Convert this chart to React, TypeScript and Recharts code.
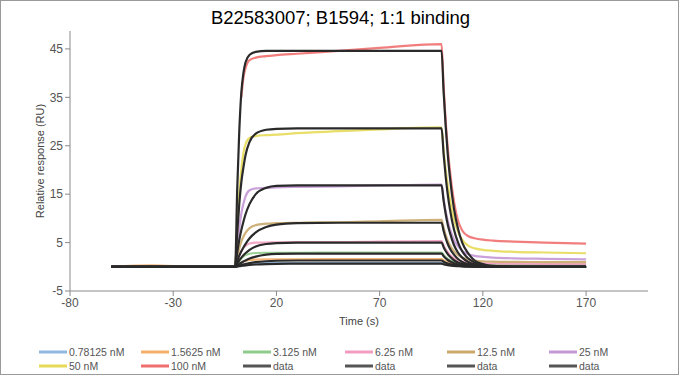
import React from 'react';
import { LineChart, Line, XAxis, YAxis, Legend } from 'recharts';

const TITLE = 'B22583007; B1594; 1:1 binding';

const TIME = [-60, -40, -20, 0, 1, 2, 3, 4, 5, 7, 10, 15, 20, 30, 50, 70, 100, 101, 102, 103, 104, 106, 108, 110, 113, 116, 120, 125, 135, 150, 170];

const CONC_LABELS = ['0.78125 nM', '1.5625 nM', '3.125 nM', '6.25 nM', '12.5 nM', '25 nM', '50 nM', '100 nM'];

// measured responses (RU)
const DATA_0078 = [0, 0, 0, 0, 0.15, 0.3, 0.42, 0.52, 0.6, 0.68, 0.72, 0.74, 0.74, 0.74, 0.75, 0.75, 0.75, 0.62, 0.52, 0.43, 0.36, 0.27, 0.2, 0.16, 0.14, 0.13, 0.12, 0.12, 0.11, 0.1, 0.1];
const DATA_0156 = [0, 0.3, 0, 0, 0.3, 0.6, 0.85, 1.05, 1.2, 1.4, 1.5, 1.55, 1.55, 1.56, 1.57, 1.58, 1.6, 1.3, 1.08, 0.9, 0.75, 0.55, 0.42, 0.35, 0.3, 0.27, 0.25, 0.24, 0.22, 0.21, 0.2];
const DATA_0313 = [0, 0, 0, 0, 0.6, 1.2, 1.7, 2.1, 2.4, 2.7, 2.85, 2.9, 2.9, 2.9, 2.92, 2.94, 2.95, 2.45, 2.0, 1.65, 1.38, 0.98, 0.74, 0.6, 0.5, 0.45, 0.42, 0.4, 0.38, 0.36, 0.35];
const DATA_0625 = [0, 0, 0, 0, 1.2, 2.3, 3.2, 3.9, 4.3, 4.8, 5.0, 5.0, 5.05, 5.1, 5.1, 5.2, 5.3, 4.4, 3.6, 3.0, 2.5, 1.8, 1.35, 1.1, 0.9, 0.78, 0.72, 0.68, 0.65, 0.62, 0.6];
const DATA_1250 = [0, 0, 0, 0, 2, 3.8, 5.2, 6.2, 7.0, 8.0, 8.6, 8.9, 9.0, 9.1, 9.2, 9.4, 9.7, 8, 6.6, 5.4, 4.5, 3.2, 2.4, 1.9, 1.5, 1.3, 1.15, 1.08, 1.02, 0.98, 0.95];
const DATA_2500 = [0, 0, 0, 0, 4, 8, 11, 13, 14.5, 15.8, 16.2, 16.3, 16.4, 16.5, 16.6, 16.8, 17.0, 14, 11.5, 9.5, 7.9, 5.6, 4.2, 3.3, 2.6, 2.25, 2.05, 1.9, 1.75, 1.65, 1.55];
const DATA_5000 = [0, 0, 0, 0, 8, 15, 20, 23.5, 25.3, 26.6, 27.0, 27.2, 27.3, 27.6, 28.0, 28.4, 28.8, 24, 20, 16.8, 14, 9.8, 7.2, 5.6, 4.3, 3.8, 3.5, 3.3, 3.1, 2.95, 2.8];
const DATA_10000 = [0, 0, 0, 0, null, null, 35, 39, 41, 42.7, 43.2, 43.5, 43.7, 44.0, 44.6, 45.2, 46.0, 37, 30, 24.5, 20, 13.5, 9.5, 7.5, 6.3, 5.9, 5.6, 5.4, 5.2, 5.0, 4.8];

// 1:1 fitted responses (RU)
const FIT_0078 = [0, 0, 0, 0, 0.06, 0.12, 0.18, 0.23, 0.28, 0.37, 0.47, 0.57, 0.62, 0.65, 0.65, 0.65, 0.65, 0.53, 0.42, 0.34, 0.27, 0.18, 0.11, 0.07, 0.04, 0.02, 0.01, 0, 0, 0, 0];
const FIT_0156 = [0, 0, 0, 0, 0.12, 0.25, 0.37, 0.47, 0.57, 0.75, 0.95, 1.15, 1.25, 1.3, 1.3, 1.3, 1.3, 1.05, 0.85, 0.68, 0.55, 0.35, 0.23, 0.15, 0.08, 0.04, 0.02, 0, 0, 0, 0];
const FIT_0313 = [0, 0, 0, 0, 0.3, 0.6, 0.85, 1.1, 1.3, 1.7, 2.1, 2.5, 2.65, 2.7, 2.7, 2.7, 2.7, 2.2, 1.75, 1.4, 1.13, 0.73, 0.47, 0.3, 0.16, 0.08, 0.04, 0.01, 0, 0, 0];
const FIT_0625 = [0, 0, 0, 0, 0.7, 1.3, 1.9, 2.4, 2.8, 3.5, 4.2, 4.7, 4.9, 5.0, 5.0, 5.0, 5.0, 4.05, 3.25, 2.6, 2.1, 1.35, 0.88, 0.56, 0.3, 0.15, 0.07, 0.02, 0, 0, 0];
const FIT_1250 = [0, 0, 0, 0, 1.2, 2.3, 3.2, 4.0, 4.7, 5.9, 7.1, 8.2, 8.7, 9.0, 9.1, 9.1, 9.1, 7.4, 5.9, 4.7, 3.8, 2.5, 1.6, 1.0, 0.55, 0.27, 0.12, 0.04, 0, 0, 0];
const FIT_2500 = [0, 0, 0, 0, 3, 5.5, 7.6, 9.3, 10.8, 13, 15, 16.3, 16.7, 16.8, 16.8, 16.8, 16.8, 13.6, 10.9, 8.7, 7.1, 4.5, 2.9, 1.9, 1.0, 0.5, 0.22, 0.07, 0, 0, 0];
const FIT_5000 = [0, 0, 0, 0, 7, 13, 17.5, 20.5, 23, 25.8, 27.5, 28.3, 28.5, 28.6, 28.6, 28.6, 28.6, 23.2, 18.6, 14.9, 12.0, 7.7, 5.0, 3.2, 1.7, 0.86, 0.37, 0.11, 0, 0, 0];
const FIT_10000 = [0, 0, 0, 0, 16, 28, 36, 40, 42.2, 43.8, 44.4, 44.6, 44.6, 44.6, 44.6, 44.6, 44.6, 36.1, 29.0, 23.2, 18.7, 12.0, 7.8, 5.0, 2.7, 1.3, 0.58, 0.18, 0, 0, 0];

const X_TICKS = [-80, -30, 20, 70, 120, 170];
const Y_TICKS = [-5, 5, 15, 25, 35, 45];

const DATA_SERIES = [DATA_0078, DATA_0156, DATA_0313, DATA_0625, DATA_1250, DATA_2500, DATA_5000, DATA_10000];
const FIT_SERIES = [FIT_0078, FIT_0156, FIT_0313, FIT_0625, FIT_1250, FIT_2500, FIT_5000, FIT_10000];

const COLORS = ['#8fb9e3', '#f4b06a', '#8fcb8a', '#f29cbf', '#c9a86a', '#c497d6', '#e6da58', '#ef6f6f'];
const FIT_COLOR = '#2a2a2a';
const LEGEND_FIT_COLOR = '#555555';
const FIT_LEGEND_LABELS = ['data', 'data', 'data', 'data'];

const rows = TIME.map((t, i) => {
  const r: Record<string, number | null> = { t };
  DATA_SERIES.forEach((s, k) => { r['d' + k] = s[i]; });
  FIT_SERIES.forEach((s, k) => { r['f' + k] = s[i]; });
  return r;
});

const FONT = '"Liberation Sans", Arial, sans-serif';

const legendItems = [
  ...CONC_LABELS.map((l, i) => ({ label: l, color: COLORS[i] })),
  ...FIT_LEGEND_LABELS.map((l) => ({ label: l, color: LEGEND_FIT_COLOR })),
];

const renderLegend = () => (
  <div style={{ position: 'relative', width: 679, height: 30, fontFamily: FONT, fontSize: 10.5, color: '#555' }}>
    {legendItems.map((it, i) => {
      const col = i % 6;
      const row = Math.floor(i / 6);
      return (
        <div key={i} style={{ position: 'absolute', left: 39 + col * 102, top: row * 14, height: 14, display: 'flex', alignItems: 'center', whiteSpace: 'nowrap' }}>
          <svg width={28} height={4} style={{ display: 'block' }}>
            <line x1={0} y1={2} x2={28} y2={2} stroke={it.color} strokeWidth={3} />
          </svg>
          <span style={{ marginLeft: 2 }}>{it.label}</span>
        </div>
      );
    })}
  </div>
);

export default function App() {
  return (
    <div style={{ position: 'absolute', left: 0, top: 0, width: 679, height: 375, boxSizing: 'border-box', border: '1px solid #9a9a9a', background: '#fff', fontFamily: FONT }}>
      <div style={{ position: 'absolute', left: 0, top: 6, width: 679, textAlign: 'center', fontSize: 18.5, color: '#000', fontFamily: FONT }}>{TITLE}</div>
      <div style={{ position: 'absolute', left: -1, top: -1 }}>
        <LineChart width={679} height={375} data={rows} margin={{ top: 31, right: 31, bottom: 44, left: 10 }}>
          <XAxis
            dataKey="t"
            type="number"
            domain={[-80, 200]}
            ticks={X_TICKS}
            allowDataOverflow
            height={40}
            tickSize={5}
            stroke="#8a8a8a"
            tick={{ fill: '#555', fontSize: 12, fontFamily: FONT }}
            label={{ value: 'Time (s)', position: 'insideBottom', offset: 6, fill: '#444', fontSize: 11, fontFamily: FONT }}
          />
          <YAxis
            type="number"
            domain={[-5, 48.7]}
            ticks={Y_TICKS}
            allowDataOverflow
            width={60}
            tickSize={5}
            stroke="#8a8a8a"
            tick={{ fill: '#555', fontSize: 12, fontFamily: FONT }}
            label={{ value: 'Relative response (RU)', angle: -90, position: 'insideLeft', offset: 30, fill: '#444', fontSize: 11, fontFamily: FONT, style: { textAnchor: 'middle' } }}
          />
          <Legend layout="horizontal" verticalAlign="middle" align="center" content={renderLegend} wrapperStyle={{ left: 0, top: 345, width: 679 }} />
          {DATA_SERIES.map((_, k) => (
            <Line key={'d' + k} dataKey={'d' + k} name={CONC_LABELS[k]} type="monotone" stroke={COLORS[k]} strokeWidth={2.2} strokeOpacity={0.9} dot={false} isAnimationActive={false} connectNulls={false} />
          ))}
          {FIT_SERIES.map((_, k) => (
            <Line key={'f' + k} dataKey={'f' + k} name="data" type="monotone" stroke={FIT_COLOR} strokeWidth={2.2} dot={false} isAnimationActive={false} />
          ))}
        </LineChart>
      </div>
    </div>
  );
}
